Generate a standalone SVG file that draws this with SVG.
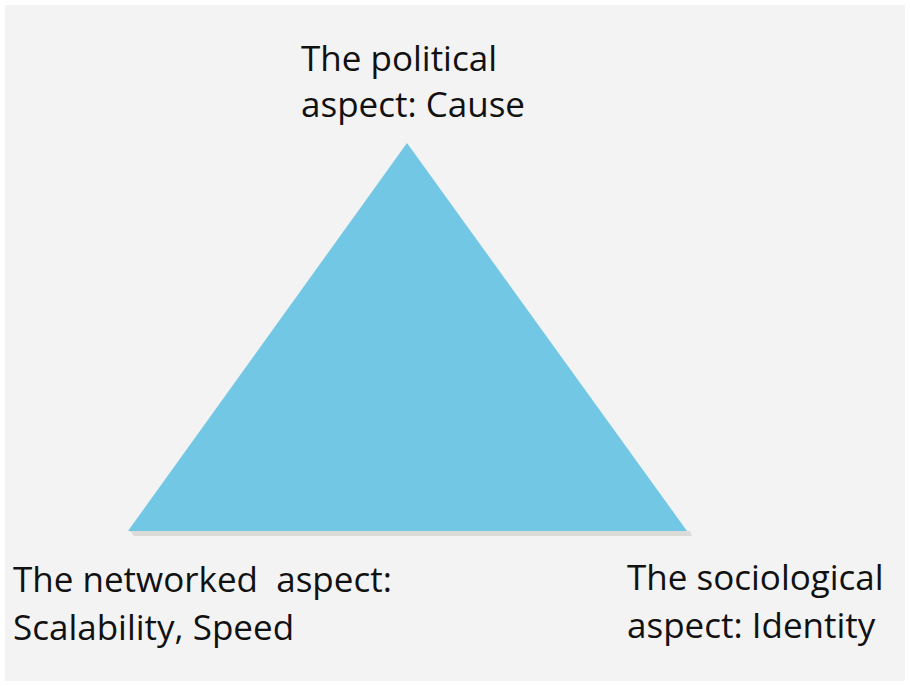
<svg xmlns="http://www.w3.org/2000/svg" width="910" height="686" viewBox="0 0 910 686">
<style>
.t{font-family:"Open Sans","Noto Sans",sans-serif;font-size:35px;fill:#111;}
</style>
<rect x="0" y="0" width="910" height="686" fill="#ffffff"/>
<rect x="5" y="5" width="900" height="676" fill="#f3f3f3"/>
<g id="triangle">
<polygon points="134,536 692,536 690,531 130,531" fill="#dcdbd8"/>
<polygon points="407,143 687,531 128,531" fill="#72c7e5"/>
</g>
<g id="connectors"></g>
<g id="political">
<text class="t" x="301" y="71">The political</text>
<text class="t" x="301" y="117">aspect: Cause</text>
</g>
<g id="networked">
<text class="t" x="13" y="592" xml:space="preserve">The networked  aspect:</text>
<text class="t" x="13" y="640">Scalability, Speed</text>
</g>
<g id="sociological">
<text class="t" x="627" y="590">The sociological</text>
<text class="t" x="627" y="638">aspect: Identity</text>
</g>
</svg>
